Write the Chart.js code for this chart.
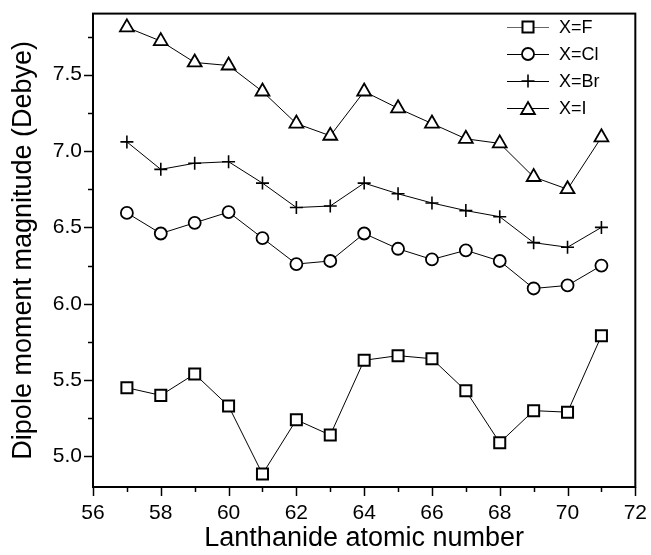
<!DOCTYPE html>
<html>
<head>
<meta charset="utf-8">
<script src="https://cdn.jsdelivr.net/npm/chart.js"></script>
<style>
  body { margin: 0; background: #fff; }
  #wrap { width: 651px; height: 555px; }
</style>
</head>
<body>
<div id="wrap"><canvas id="dipoleChart"></canvas></div>
<script>
// Lanthanide atomic numbers (La..Lu)
const atomicNumbers = [57, 58, 59, 60, 61, 62, 63, 64, 65, 66, 67, 68, 69, 70, 71];

// dipole moment magnitude (Debye) for each halide
const dipoleF  = [5.45, 5.40, 5.54, 5.33, 4.885, 5.24, 5.14, 5.63, 5.66, 5.64, 5.43, 5.09, 5.30, 5.29, 5.79];
const dipoleCl = [6.595, 6.46, 6.53, 6.60, 6.43, 6.26, 6.28, 6.46, 6.36, 6.29, 6.35, 6.28, 6.10, 6.12, 6.25];
const dipoleBr = [7.06, 6.88, 6.92, 6.93, 6.79, 6.63, 6.64, 6.79, 6.72, 6.66, 6.61, 6.57, 6.40, 6.37, 6.50];
const dipoleI  = [7.81, 7.72, 7.58, 7.56, 7.39, 7.18, 7.10, 7.39, 7.28, 7.18, 7.08, 7.05, 6.83, 6.75, 7.09];

const seriesLabels = ['X=F', 'X=Cl', 'X=Br', 'X=I'];

// tick values
const xTickValues = [56, 57, 58, 59, 60, 61, 62, 63, 64, 65, 66, 67, 68, 69, 70, 71, 72];
const yTickValues = [5.0, 5.25, 5.5, 5.75, 6.0, 6.25, 6.5, 6.75, 7.0, 7.25, 7.5, 7.75];

const FONT = '"Liberation Sans", Arial, sans-serif';

function toPoints(ys) {
  return atomicNumbers.map((x, i) => ({ x: x, y: ys[i] }));
}

function series(label, ys, style, radius, bw) {
  return {
    label: label,
    data: toPoints(ys),
    borderColor: '#000',
    borderWidth: 1,
    pointStyle: style,
    pointRadius: radius,
    pointHoverRadius: radius,
    pointBorderWidth: bw,
    pointBorderColor: '#000',
    pointBackgroundColor: '#fff',
    tension: 0
  };
}

// frame + ticks (major/minor) + legend drawn by hand
const framePlugin = {
  id: 'frame',
  afterDraw(chart) {
    const ctx = chart.ctx;
    const a = chart.chartArea;
    const xs = chart.scales.x, ys = chart.scales.y;
    ctx.save();
    ctx.strokeStyle = '#000';
    ctx.lineWidth = 1.5;
    xTickValues.forEach(v => {
      const px = Math.round(xs.getPixelForValue(v)) + 0.5;
      const len = v % 2 === 0 ? 9 : 5;
      ctx.beginPath();
      ctx.moveTo(px, a.bottom);
      ctx.lineTo(px, a.bottom + len);
      ctx.stroke();
    });
    yTickValues.forEach(v => {
      const py = Math.round(ys.getPixelForValue(v)) + 0.5;
      const len = Math.abs(v * 2 - Math.round(v * 2)) < 1e-6 ? 9 : 5;
      ctx.beginPath();
      ctx.moveTo(a.left, py);
      ctx.lineTo(a.left - len, py);
      ctx.stroke();
    });
    ctx.lineWidth = 2;
    ctx.strokeRect(a.left, a.top, a.right - a.left, a.bottom - a.top);

    // legend: line - marker - line, then text
    const lx0 = 507, lx1 = 549, rowY = [27, 54, 81, 108];
    ctx.font = '18px ' + FONT;
    ctx.textBaseline = 'middle';
    ctx.fillStyle = '#000';
    chart.data.datasets.forEach((ds, i) => {
      const y = rowY[i];
      ctx.lineWidth = 1;
      ctx.strokeStyle = i === 0 ? '#666' : '#000';
      ctx.beginPath();
      ctx.moveTo(lx0, y + 0.5);
      ctx.lineTo(lx1, y + 0.5);
      ctx.stroke();
      ctx.strokeStyle = '#000';
      ctx.fillStyle = '#fff';
      ctx.lineWidth = ds.pointBorderWidth;
      const my = ds.pointStyle === 'triangle' ? y + 2 : y;
      Chart.helpers.drawPoint(ctx, {
        pointStyle: ds.pointStyle,
        radius: ds.pointRadius,
        rotation: 0,
        borderWidth: ds.pointBorderWidth
      }, (lx0 + lx1) / 2, my);
      ctx.fillStyle = '#000';
      ctx.fillText(ds.label, 559, y + 1);
    });
    ctx.restore();
  }
};

const ctx = document.getElementById('dipoleChart').getContext('2d');
new Chart(ctx, {
  type: 'line',
  data: {
    datasets: [
      series(seriesLabels[0], dipoleF, 'rect', 7.8, 2),
      series(seriesLabels[1], dipoleCl, 'circle', 6, 1.8),
      series(seriesLabels[2], dipoleBr, 'cross', 6.5, 1.6),
      series(seriesLabels[3], dipoleI, 'triangle', 8, 1.8)
    ]
  },
  options: {
    responsive: true,
    maintainAspectRatio: false,
    animation: false,
    layout: { padding: { top: 13, right: 12, left: 0, bottom: 0 } },
    plugins: {
      legend: { display: false },
      tooltip: { enabled: false }
    },
    scales: {
      x: {
        type: 'linear',
        min: 56,
        max: 72,
        afterFit: s => { s.height = 68; },
        afterBuildTicks: s => { s.ticks = xTickValues.map(v => ({ value: v })); },
        grid: { display: true, drawOnChartArea: false, tickLength: 10, color: 'rgba(0,0,0,0)' },
        border: { display: false },
        ticks: {
          autoSkip: false,
          maxRotation: 0,
          padding: 4,
          color: '#000',
          font: { family: FONT, size: 21 },
          callback: v => (v % 2 === 0 ? String(v) : '')
        },
        title: {
          display: true,
          text: 'Lanthanide atomic number',
          color: '#000',
          font: { family: FONT, size: 27 },
          padding: { top: 0, bottom: 0 }
        }
      },
      y: {
        min: 4.8,
        max: 7.9,
        afterFit: s => { s.width = 93; },
        afterBuildTicks: s => { s.ticks = yTickValues.map(v => ({ value: v })); },
        grid: { display: true, drawOnChartArea: false, tickLength: 10, color: 'rgba(0,0,0,0)' },
        border: { display: false },
        ticks: {
          padding: 1,
          color: '#000',
          font: { family: FONT, size: 21 },
          callback: v => (Math.abs(v * 2 - Math.round(v * 2)) < 1e-6 ? v.toFixed(1) : '')
        },
        title: {
          display: true,
          text: 'Dipole moment magnitude (Debye)',
          color: '#000',
          font: { family: FONT, size: 27 },
          padding: { top: 7, bottom: 0 }
        }
      }
    }
  },
  plugins: [framePlugin]
});
</script>
</body>
</html>
